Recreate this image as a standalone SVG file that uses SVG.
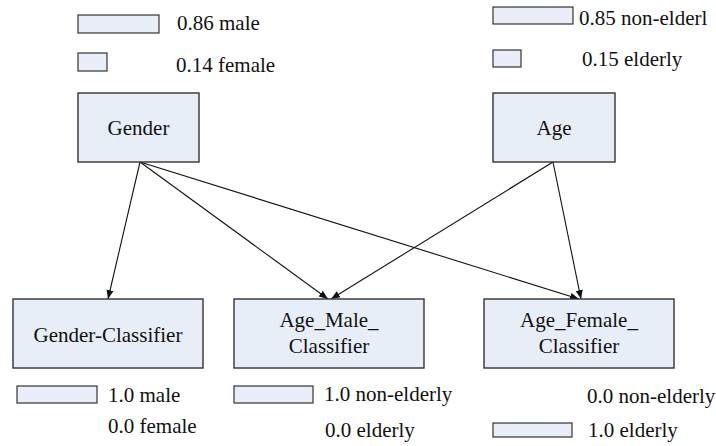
<svg xmlns="http://www.w3.org/2000/svg" width="716" height="446" viewBox="0 0 716 446" font-family="Times New Roman, Liberation Serif, serif">
<defs>
<style>
.box{fill:#e8eef8;stroke:#333;stroke-width:1.4}
.bar{fill:#e8eef8;stroke:#333;stroke-width:1.2}
.lbl{font-size:21px;fill:#111}
.c{text-anchor:middle}
.edge{stroke:#111;stroke-width:1.1;fill:none;marker-end:url(#ah)}
</style>
<marker id="ah" viewBox="0 0 10 10" refX="10" refY="5" markerWidth="9" markerHeight="9" markerUnits="userSpaceOnUse" orient="auto">
<path d="M0,1 L10,5 L0,9 z" fill="#111"/>
</marker>
</defs>
<rect width="716" height="446" fill="#fff"/>
<g id="legend-gender">
<rect class="bar" x="78" y="15" width="81" height="18"/>
<rect class="bar" x="78" y="53" width="29" height="18"/>
<text class="lbl" x="177" y="30" font-family="Times New Roman">0.86 male</text>
<text class="lbl" x="176" y="72" font-family="Times New Roman">0.14 female</text>
</g>
<g id="legend-age">
<rect class="bar" x="493" y="7" width="80" height="17"/>
<rect class="bar" x="493" y="50" width="28" height="17"/>
<text class="lbl" x="579" y="25" font-family="Times New Roman">0.85 non-elderl</text>
<text class="lbl" x="582" y="66" font-family="Times New Roman">0.15 elderly</text>
</g>
<g id="connectors">
<line class="edge" x1="140" y1="162" x2="108" y2="299"/>
<line class="edge" x1="140" y1="162" x2="328" y2="299"/>
<line class="edge" x1="140" y1="162" x2="579" y2="299"/>
<line class="edge" x1="553" y1="162" x2="331" y2="299"/>
<line class="edge" x1="553" y1="162" x2="581" y2="299"/>
</g>
<g id="gender">
<rect class="box" x="78" y="93" width="121" height="69"/>
<text class="lbl c" x="138.5" y="135" font-family="Times New Roman">Gender</text>
</g>
<g id="age">
<rect class="box" x="493" y="93" width="122" height="69"/>
<text class="lbl c" x="554" y="135" font-family="Times New Roman">Age</text>
</g>
<g id="gender-classifier">
<rect class="box" x="13" y="299" width="190" height="69"/>
<text class="lbl c" x="108" y="342" font-family="Times New Roman">Gender-Classifier</text>
</g>
<g id="age-male-classifier">
<rect class="box" x="234" y="299" width="190" height="69"/>
<text class="lbl c" x="329" y="327" font-family="Times New Roman">Age_Male_</text>
<text class="lbl c" x="329" y="353" font-family="Times New Roman">Classifier</text>
</g>
<g id="age-female-classifier">
<rect class="box" x="484" y="299" width="190" height="69"/>
<text class="lbl c" x="579" y="327" font-family="Times New Roman">Age_Female_</text>
<text class="lbl c" x="579" y="353" font-family="Times New Roman">Classifier</text>
</g>
<g id="legend-gender-classifier">
<rect class="bar" x="17" y="386" width="80" height="17"/>
<text class="lbl" x="108" y="402" font-family="Times New Roman">1.0 male</text>
<text class="lbl" x="108" y="433" font-family="Times New Roman">0.0 female</text>
</g>
<g id="legend-age-male">
<rect class="bar" x="234" y="386" width="79" height="17"/>
<text class="lbl" x="324" y="401" font-family="Times New Roman">1.0 non-elderly</text>
<text class="lbl" x="325" y="437" font-family="Times New Roman">0.0 elderly</text>
</g>
<g id="legend-age-female">
<rect class="bar" x="493" y="423" width="79" height="14"/>
<text class="lbl" x="587" y="403" font-family="Times New Roman">0.0 non-elderly</text>
<text class="lbl" x="588" y="437" font-family="Times New Roman">1.0 elderly</text>
</g>
</svg>
